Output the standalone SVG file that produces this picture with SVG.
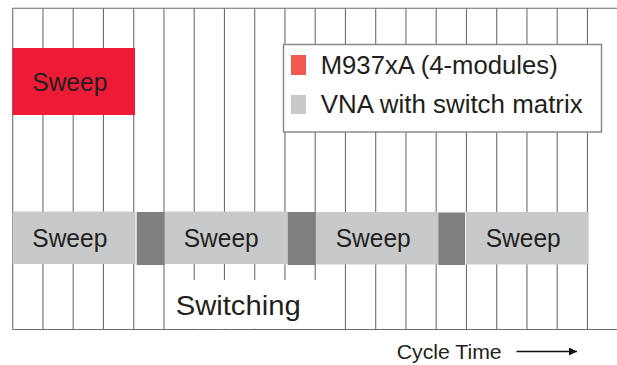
<svg xmlns="http://www.w3.org/2000/svg" width="617" height="365" viewBox="0 0 617 365">
  <style>
    .grid line { stroke: #6e6e6e; stroke-width: 1.1; }
    .txt { font-family: "Liberation Sans", Arial, sans-serif; fill: #231f20; }
    .sweep { fill: #c8c9cb; }
    .gap { fill: #7f7f7e; }
  </style>
  <defs>
    <marker id="arrow" viewBox="0 0 10 10" refX="10" refY="5" markerWidth="10" markerHeight="8" markerUnits="userSpaceOnUse" orient="auto">
      <path d="M0,0 L10,5 L0,10 z" fill="#111"/>
    </marker>
  </defs>
  <rect width="617" height="365" fill="#fff"/>

  <g id="grid" class="grid">
    <line x1="12.5" y1="8.3" x2="617" y2="8.3"/>
    <line x1="12.5" y1="329.5" x2="617" y2="329.5"/>
    <line x1="12.7" y1="8.3" x2="12.7" y2="329.5"/>
    <line x1="42.95" y1="8.3" x2="42.95" y2="329.5"/>
    <line x1="73.2" y1="8.3" x2="73.2" y2="329.5"/>
    <line x1="103.45" y1="8.3" x2="103.45" y2="329.5"/>
    <line x1="133.7" y1="8.3" x2="133.7" y2="329.5"/>
    <line x1="163.95" y1="8.3" x2="163.95" y2="329.5"/>
    <line x1="194.2" y1="8.3" x2="194.2" y2="329.5"/>
    <line x1="224.45" y1="8.3" x2="224.45" y2="329.5"/>
    <line x1="254.7" y1="8.3" x2="254.7" y2="329.5"/>
    <line x1="284.95" y1="8.3" x2="284.95" y2="329.5"/>
    <line x1="315.2" y1="8.3" x2="315.2" y2="329.5"/>
    <line x1="345.45" y1="8.3" x2="345.45" y2="329.5"/>
    <line x1="375.7" y1="8.3" x2="375.7" y2="329.5"/>
    <line x1="405.95" y1="8.3" x2="405.95" y2="329.5"/>
    <line x1="436.2" y1="8.3" x2="436.2" y2="329.5"/>
    <line x1="466.45" y1="8.3" x2="466.45" y2="329.5"/>
    <line x1="496.7" y1="8.3" x2="496.7" y2="329.5"/>
    <line x1="526.95" y1="8.3" x2="526.95" y2="329.5"/>
    <line x1="557.2" y1="8.3" x2="557.2" y2="329.5"/>
    <line x1="587.45" y1="8.3" x2="587.45" y2="329.5"/>
  </g>

  <g id="m937-sweep">
    <rect x="12.5" y="48" width="122.5" height="67" fill="#ed1b36"/>
    <text class="txt" x="32.3" y="90.5" font-size="25" textLength="75" lengthAdjust="spacingAndGlyphs">Sweep</text>
  </g>

  <g id="legend">
    <rect x="283.5" y="44.5" width="318" height="87.5" fill="#fff" stroke="#8a8a8a" stroke-width="1.5"/>
    <rect x="291" y="55" width="15" height="20" fill="#f15a50"/>
    <rect x="291" y="95" width="15" height="19" fill="#c8c9cb"/>
    <text class="txt" x="320.7" y="74" font-size="25" textLength="237" lengthAdjust="spacingAndGlyphs">M937xA (4-modules)</text>
    <text class="txt" x="320.7" y="112.5" font-size="25" textLength="262" lengthAdjust="spacingAndGlyphs">VNA with switch matrix</text>
  </g>

  <g id="vna-sweep-1">
    <rect class="sweep" x="12.5" y="211.5" width="123" height="52.5"/>
    <text class="txt" x="32.3" y="246.7" font-size="25" textLength="75" lengthAdjust="spacingAndGlyphs">Sweep</text>
  </g>
  <g id="switch-1"><rect class="gap" x="136.7" y="212" width="27.8" height="53"/></g>
  <g id="vna-sweep-2">
    <rect class="sweep" x="165" y="211.5" width="122.7" height="52.5"/>
    <text class="txt" x="183.7" y="246.7" font-size="25" textLength="75" lengthAdjust="spacingAndGlyphs">Sweep</text>
  </g>
  <g id="switch-2"><rect class="gap" x="287.7" y="212" width="27.6" height="53"/></g>
  <g id="vna-sweep-3">
    <rect class="sweep" x="316" y="212" width="122.3" height="52.5"/>
    <text class="txt" x="335.7" y="247" font-size="25" textLength="75" lengthAdjust="spacingAndGlyphs">Sweep</text>
  </g>
  <g id="switch-3"><rect class="gap" x="438.3" y="212.5" width="26.7" height="52.5"/></g>
  <g id="vna-sweep-4">
    <rect class="sweep" x="466" y="212" width="122.7" height="52.5"/>
    <text class="txt" x="485.7" y="247" font-size="25" textLength="75" lengthAdjust="spacingAndGlyphs">Sweep</text>
  </g>

  <g id="switching-label">
    <rect x="165" y="280" width="152" height="48.8" fill="#fff"/>
    <text class="txt" x="175.7" y="315" font-size="27" textLength="125" lengthAdjust="spacingAndGlyphs">Switching</text>
  </g>

  <g id="axis-label">
    <text class="txt" x="396.7" y="359" font-size="21" textLength="105" lengthAdjust="spacingAndGlyphs">Cycle Time</text>
  </g>

  <g id="connectors">
    <line x1="516.5" y1="351.5" x2="577" y2="351.5" stroke="#111" stroke-width="1.3" marker-end="url(#arrow)"/>
  </g>
</svg>
